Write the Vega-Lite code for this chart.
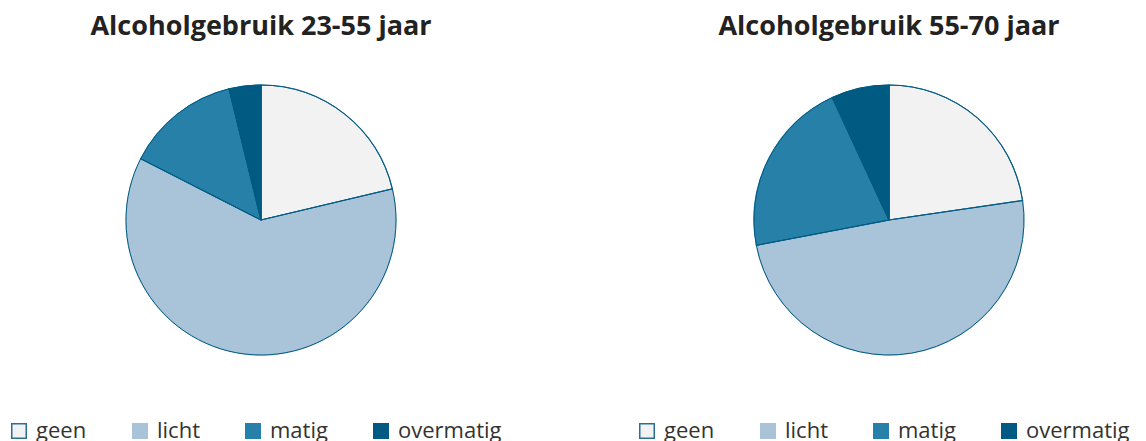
{
  "$schema": "https://vega.github.io/schema/vega-lite/v6.json",
  "background": "white",
  "padding": {"top": 13, "left": 8, "right": 0, "bottom": 0},
  "datasets": {
    "d": [
      {"group": "23-55", "cat": "geen", "ord": 1, "value": 21.3},
      {"group": "23-55", "cat": "licht", "ord": 2, "value": 61.2},
      {"group": "23-55", "cat": "matig", "ord": 3, "value": 13.7},
      {"group": "23-55", "cat": "overmatig", "ord": 4, "value": 3.8},
      {"group": "55-70", "cat": "geen", "ord": 1, "value": 22.7},
      {"group": "55-70", "cat": "licht", "ord": 2, "value": 49.3},
      {"group": "55-70", "cat": "matig", "ord": 3, "value": 21.1},
      {"group": "55-70", "cat": "overmatig", "ord": 4, "value": 6.9}
    ]
  },
  "hconcat": [
    {
      "title": "Alcoholgebruik 23-55 jaar",
      "data": {"name": "d"},
      "transform": [{"filter": "datum.group == '23-55'"}],
      "width": 506,
      "height": 318,
      "encoding": {
        "theta": {"field": "value", "type": "quantitative", "stack": true},
        "order": {"field": "ord", "type": "quantitative"}
      },
      "layer": [
        {
          "mark": {"type": "arc", "outerRadius": 135, "strokeWidth": 1.2},
          "encoding": {
            "color": {
              "field": "cat", "type": "nominal",
              "scale": {"domain": ["geen", "licht", "matig", "overmatig"], "range": ["#f2f2f2", "#a9c4d9", "#2680a8", "#005a82"]},
              "legend": {"title": null}
            },
            "stroke": {
              "field": "cat", "type": "nominal",
              "scale": {"domain": ["geen", "licht", "matig", "overmatig"], "range": ["#2b6f93", "#a9c4d9", "#2680a8", "#005a82"]},
              "legend": {"title": null}
            }
          }
        },
        {
          "mark": {"type": "arc", "outerRadius": 135, "fillOpacity": 0, "stroke": "#005a82", "strokeWidth": 1}
        }
      ]
    },
    {
      "title": "Alcoholgebruik 55-70 jaar",
      "data": {"name": "d"},
      "transform": [{"filter": "datum.group == '55-70'"}],
      "width": 506,
      "height": 318,
      "encoding": {
        "theta": {"field": "value", "type": "quantitative", "stack": true},
        "order": {"field": "ord", "type": "quantitative"}
      },
      "layer": [
        {
          "mark": {"type": "arc", "outerRadius": 135, "strokeWidth": 1.2},
          "encoding": {
            "color": {
              "field": "cat", "type": "nominal",
              "scale": {"domain": ["geen", "licht", "matig", "overmatig"], "range": ["#f2f2f2", "#a9c4d9", "#2680a8", "#005a82"]},
              "legend": {"title": null}
            },
            "stroke": {
              "field": "cat", "type": "nominal",
              "scale": {"domain": ["geen", "licht", "matig", "overmatig"], "range": ["#2b6f93", "#a9c4d9", "#2680a8", "#005a82"]},
              "legend": {"title": null}
            }
          }
        },
        {
          "mark": {"type": "arc", "outerRadius": 135, "fillOpacity": 0, "stroke": "#005a82", "strokeWidth": 1}
        }
      ]
    }
  ],
  "spacing": 122,
  "resolve": {
    "scale": {"color": "independent", "stroke": "independent"},
    "legend": {"color": "independent", "stroke": "independent"}
  },
  "config": {
    "view": {"stroke": null},
    "title": {"font": "Open Sans", "fontSize": 27, "fontWeight": "bold", "color": "#222222", "anchor": "middle", "offset": 20},
    "legend": {
      "orient": "bottom",
      "direction": "horizontal",
      "offset": 41,
      "symbolType": "square",
      "symbolSize": 210,
      "labelFont": "Open Sans",
      "labelFontSize": 22,
      "labelColor": "#333333",
      "columnPadding": 42,
      "labelOffset": 6
    }
  }
}
